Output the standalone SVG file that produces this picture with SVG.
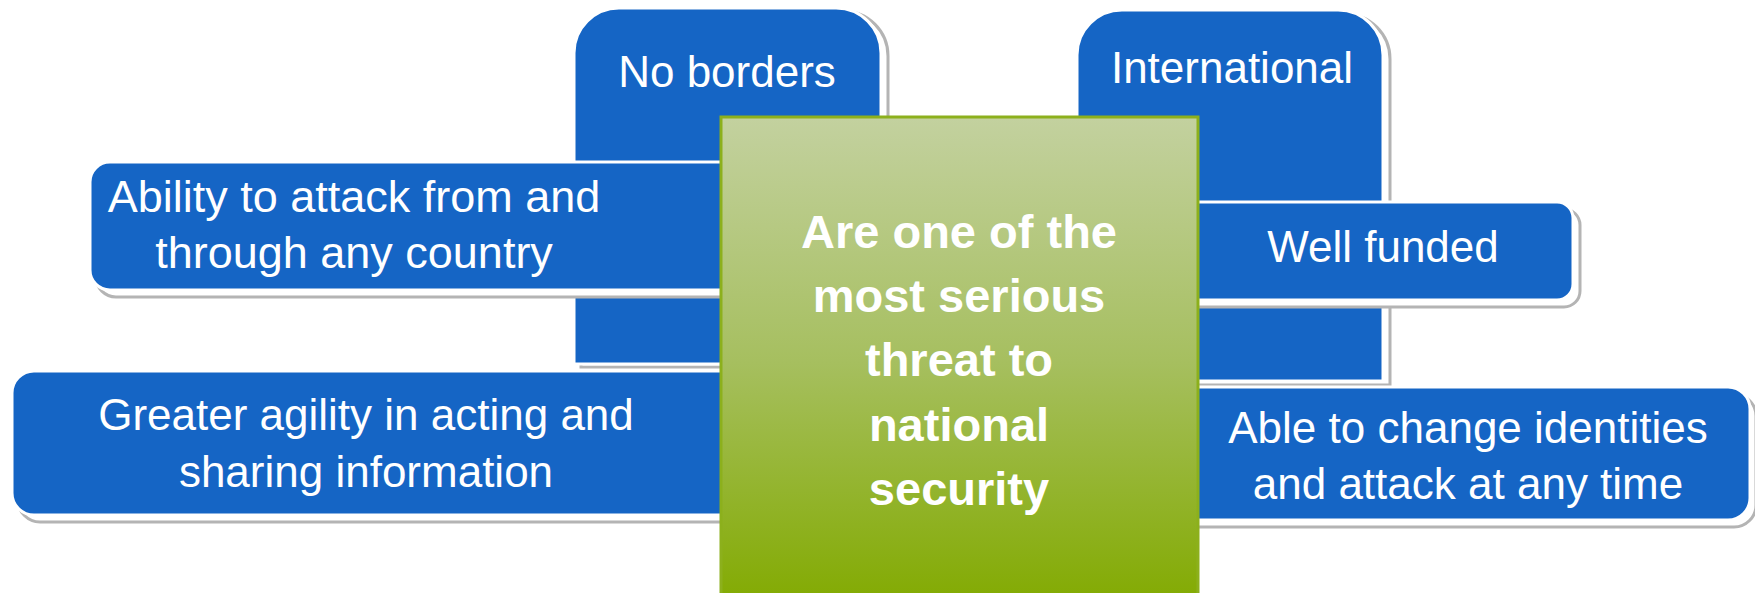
<svg xmlns="http://www.w3.org/2000/svg" width="1755" height="593" viewBox="0 0 1755 593">
<style>
.box{fill:#1565C5;stroke:#ffffff;stroke-width:3}
.shd{fill:#ffffff;stroke:#b4b4b4;stroke-width:3}
.t{font-family:"Liberation Sans",Arial,sans-serif;font-size:44px;fill:#ffffff;text-anchor:middle}
.c{font-family:"Liberation Sans",Arial,sans-serif;font-size:47px;font-weight:bold;fill:#ffffff;text-anchor:middle}
</style>
<defs>
<linearGradient id="g" x1="0" y1="0" x2="0" y2="1">
<stop offset="0" stop-color="#c3d19f"/>
<stop offset="0.5" stop-color="#a6bf5f"/>
<stop offset="1" stop-color="#82aa00"/>
</linearGradient>
</defs>
<rect width="1755" height="593" fill="#ffffff"/>
<g id="connectors"></g>
<g id="no-borders">
<path class="shd" transform="translate(7,3)" d="M574,364 V53 A45,45 0 0 1 619,8 H836 A45,45 0 0 1 881,53 V364 Z"/>
<path class="box" d="M574,364 V53 A45,45 0 0 1 619,8 H836 A45,45 0 0 1 881,53 V364 Z"/>
<text class="t" x="727" y="87">No borders</text>
</g>
<g id="international">
<path class="shd" transform="translate(7,4)" d="M1077,381 V55 A45,45 0 0 1 1122,10 H1338 A45,45 0 0 1 1383,55 V381 Z"/>
<path class="box" d="M1077,381 V55 A45,45 0 0 1 1122,10 H1338 A45,45 0 0 1 1383,55 V381 Z"/>
<text class="t" x="1232" y="83">International</text>
</g>
<g id="ability">
<path class="shd" transform="translate(6,7)" d="M760,162 H110 A20,20 0 0 0 90,182 V270 A20,20 0 0 0 110,290 H760 Z"/>
<path class="box" d="M760,162 H110 A20,20 0 0 0 90,182 V270 A20,20 0 0 0 110,290 H760 Z"/>
<text class="t" x="354" y="212" style="font-size:45px">Ability to attack from and</text>
<text class="t" x="354" y="268" style="font-size:45px">through any country</text>
</g>
<g id="well-funded">
<path class="shd" transform="translate(7,7)" d="M1150,202 H1557 A16,16 0 0 1 1573,218 V284 A16,16 0 0 1 1557,300 H1150 Z"/>
<path class="box" d="M1150,202 H1557 A16,16 0 0 1 1573,218 V284 A16,16 0 0 1 1557,300 H1150 Z"/>
<text class="t" x="1383" y="262">Well funded</text>
</g>
<g id="greater-agility">
<path class="shd" transform="translate(6,7)" d="M760,371 H34 A22,22 0 0 0 12,393 V493 A22,22 0 0 0 34,515 H760 Z"/>
<path class="box" d="M760,371 H34 A22,22 0 0 0 12,393 V493 A22,22 0 0 0 34,515 H760 Z"/>
<text class="t" x="366" y="430">Greater agility in acting and</text>
<text class="t" x="366" y="487">sharing information</text>
</g>
<g id="able-to-change">
<path class="shd" transform="translate(6,7)" d="M1150,387 H1728 A22,22 0 0 1 1750,409 V498 A22,22 0 0 1 1728,520 H1150 Z"/>
<path class="box" d="M1150,387 H1728 A22,22 0 0 1 1750,409 V498 A22,22 0 0 1 1728,520 H1150 Z"/>
<text class="t" x="1468" y="443">Able to change identities</text>
<text class="t" x="1468" y="499">and attack at any time</text>
</g>
<g id="center">
<rect x="721" y="117" width="477" height="490" fill="url(#g)" stroke="#8cb01c" stroke-width="3"/>
<text class="c" x="959" y="248">Are one of the</text>
<text class="c" x="959" y="312">most serious</text>
<text class="c" x="959" y="376">threat to</text>
<text class="c" x="959" y="441">national</text>
<text class="c" x="959" y="505">security</text>
</g>
</svg>
